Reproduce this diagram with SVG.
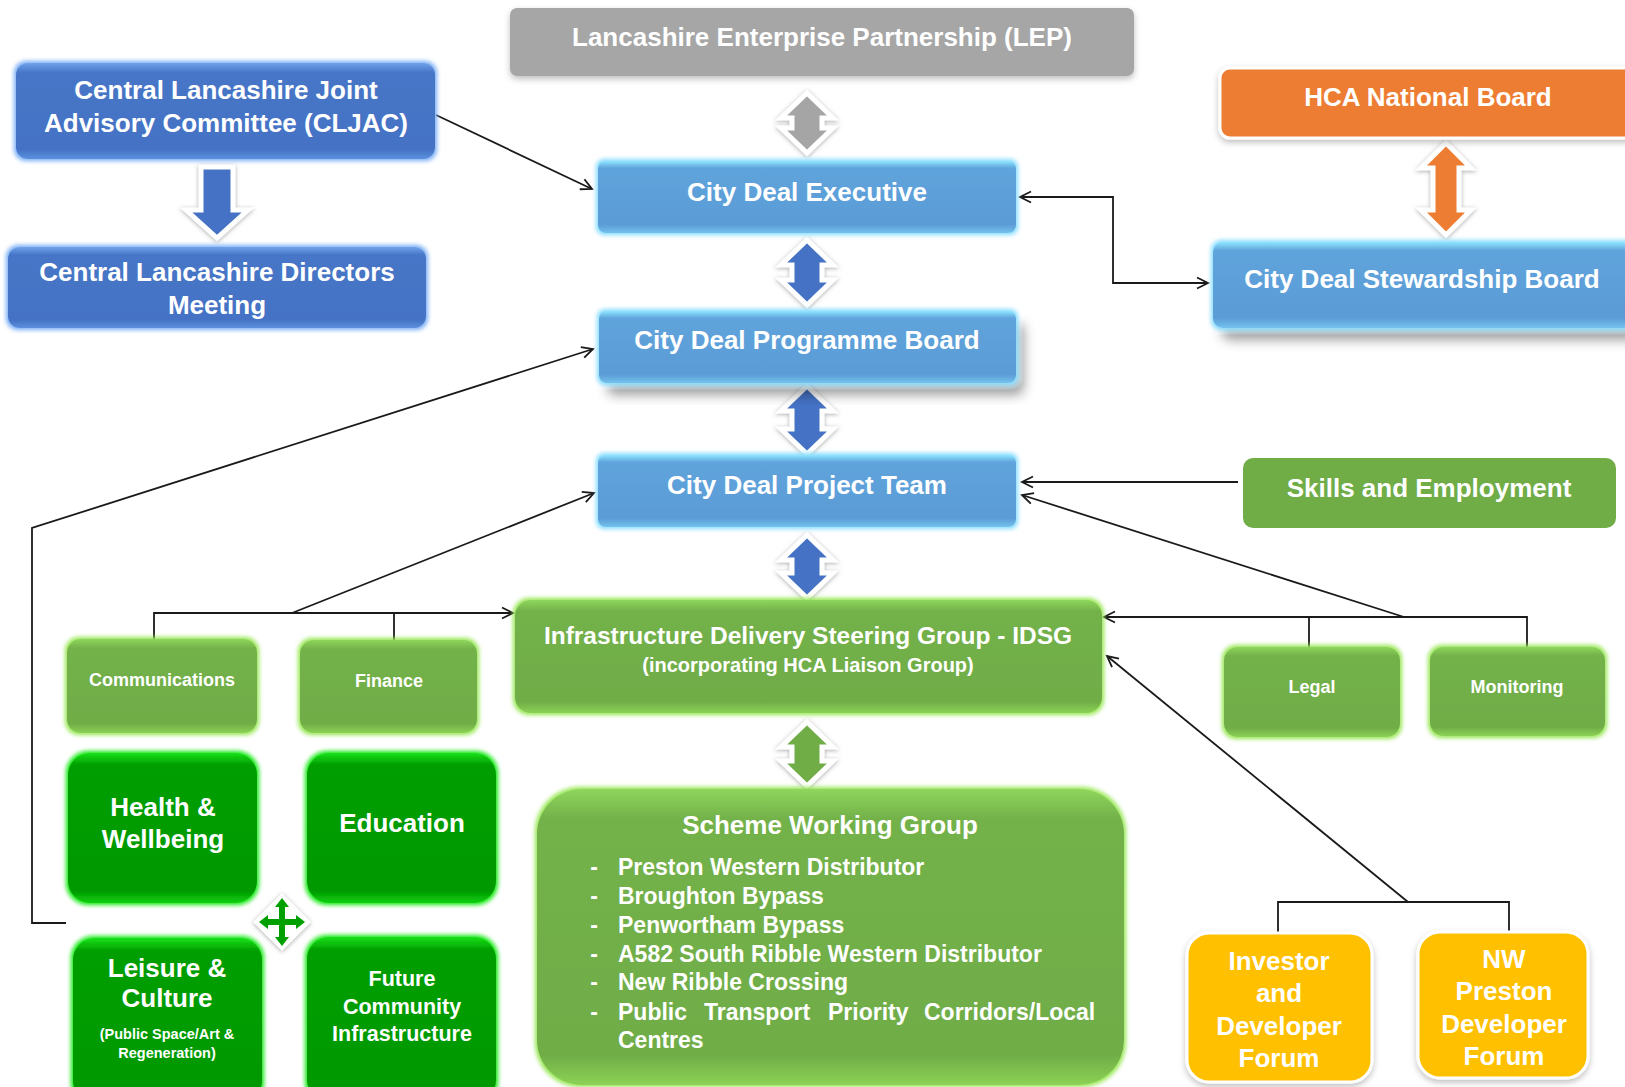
<svg xmlns="http://www.w3.org/2000/svg" width="1625" height="1087" viewBox="0 0 1625 1087">
<style>
.t{font-family:"Liberation Sans",Arial,Helvetica,sans-serif;font-weight:bold;fill:#fff;text-anchor:middle}
.s26{font-size:26px}.s24{font-size:24.5px}.s23{font-size:23px}.s20{font-size:20px}.s18{font-size:18px}.s21{font-size:21.5px}.s14{font-size:14.5px}
.st{text-anchor:start}
.ln{fill:none;stroke:#1a1a1a;stroke-width:1.8}
.arr{marker-end:url(#ah)}
.both{marker-start:url(#ah);marker-end:url(#ah)}
.bl{fill:url(#gBlueL);filter:url(#glowL)}
.blsh{fill:url(#gBlueL);filter:url(#glowLsh)}
.bd{fill:url(#gBlueD);filter:url(#glowD)}
.gr{fill:url(#gGreen);filter:url(#glowG)}
.bg{fill:url(#gBright);filter:url(#glowBG)}
.da{stroke:#fff;stroke-width:5;stroke-linejoin:miter;filter:url(#arSh)}
</style>
<defs>
<marker id="ah" markerUnits="userSpaceOnUse" markerWidth="16" markerHeight="16" refX="12" refY="7" orient="auto-start-reverse">
<path d="M1,1.5 L12,7 L1,12.5" fill="none" stroke="#1a1a1a" stroke-width="1.8"/>
</marker>
<linearGradient id="gBlueL" x1="0" y1="0" x2="0" y2="1">
<stop offset="0" stop-color="#8FE6FF"/><stop offset="0.1" stop-color="#5FA4DC"/><stop offset="0.88" stop-color="#5B9BD5"/><stop offset="1" stop-color="#74C2EE"/>
</linearGradient>
<linearGradient id="gBlueD" x1="0" y1="0" x2="0" y2="1">
<stop offset="0" stop-color="#6FA3EA"/><stop offset="0.1" stop-color="#4775C7"/><stop offset="0.9" stop-color="#4472C4"/><stop offset="1" stop-color="#5C90DE"/>
</linearGradient>
<linearGradient id="gGreen" x1="0" y1="0" x2="0" y2="1">
<stop offset="0" stop-color="#8FD65C"/><stop offset="0.1" stop-color="#73B14A"/><stop offset="0.9" stop-color="#70AD47"/><stop offset="1" stop-color="#8CD255"/>
</linearGradient>
<linearGradient id="gBright" x1="0" y1="0" x2="0" y2="1">
<stop offset="0" stop-color="#19E019"/><stop offset="0.08" stop-color="#009E00"/><stop offset="0.92" stop-color="#009900"/><stop offset="1" stop-color="#10D010"/>
</linearGradient>
<filter id="glowL" x="-5%" y="-10%" width="110%" height="120%">
<feMorphology in="SourceAlpha" operator="dilate" radius="1.5" result="d"/><feGaussianBlur in="d" stdDeviation="2" result="b"/>
<feFlood flood-color="#86DDFF"/><feComposite in2="b" operator="in" result="g"/>
<feMerge><feMergeNode in="g"/><feMergeNode in="SourceGraphic"/></feMerge>
</filter>
<filter id="glowLsh" x="-5%" y="-10%" width="115%" height="140%">
<feGaussianBlur in="SourceAlpha" stdDeviation="6" result="sb"/><feOffset in="sb" dx="8" dy="12" result="so"/>
<feFlood flood-color="#000" flood-opacity="0.38"/><feComposite in2="so" operator="in" result="sh"/>
<feMorphology in="SourceAlpha" operator="dilate" radius="1.5" result="d"/><feGaussianBlur in="d" stdDeviation="2" result="b"/>
<feFlood flood-color="#86DDFF"/><feComposite in2="b" operator="in" result="g"/>
<feMerge><feMergeNode in="sh"/><feMergeNode in="g"/><feMergeNode in="SourceGraphic"/></feMerge>
</filter>
<filter id="glowD" x="-5%" y="-10%" width="110%" height="120%">
<feMorphology in="SourceAlpha" operator="dilate" radius="1.5" result="d"/><feGaussianBlur in="d" stdDeviation="2" result="b"/>
<feFlood flood-color="#79AEF5"/><feComposite in2="b" operator="in" result="g"/>
<feMerge><feMergeNode in="g"/><feMergeNode in="SourceGraphic"/></feMerge>
</filter>
<filter id="glowG" x="-5%" y="-10%" width="110%" height="120%">
<feMorphology in="SourceAlpha" operator="dilate" radius="2" result="d"/><feGaussianBlur in="d" stdDeviation="2.2" result="b"/>
<feFlood flood-color="#96E652"/><feComposite in2="b" operator="in" result="g"/>
<feMerge><feMergeNode in="g"/><feMergeNode in="SourceGraphic"/></feMerge>
</filter>
<filter id="glowBG" x="-5%" y="-10%" width="110%" height="120%">
<feMorphology in="SourceAlpha" operator="dilate" radius="1.5" result="d"/><feGaussianBlur in="d" stdDeviation="2" result="b"/>
<feFlood flood-color="#10E810"/><feComposite in2="b" operator="in" result="g"/>
<feMerge><feMergeNode in="g"/><feMergeNode in="SourceGraphic"/></feMerge>
</filter>
<filter id="soft" x="-5%" y="-10%" width="110%" height="130%">
<feDropShadow dx="0" dy="3" stdDeviation="3" flood-color="#000" flood-opacity="0.25"/>
</filter>
<filter id="arSh" x="-30%" y="-20%" width="160%" height="140%">
<feDropShadow dx="0" dy="1" stdDeviation="2" flood-color="#666" flood-opacity="0.55"/>
</filter>
<clipPath id="clipDir"><rect x="0" y="240" width="440" height="79"/></clipPath>
</defs>
<rect width="1625" height="1087" fill="#fff"/>

<g id="connectors">
<path class="ln arr" d="M436,115 L592,189"/>
<path class="ln both" d="M1020,197 H1113 V283 H1208"/>
<path class="ln arr" d="M66,923 H32 V528 L593,349"/>
<path class="ln arr" d="M154,639 V613 H513"/>
<path class="ln" d="M394,613 V640"/>
<path class="ln arr" d="M292,613 L594,493"/>
<path class="ln arr" d="M1238,482 H1022"/>
<path class="ln arr" d="M1527,647 V617 H1104"/>
<path class="ln" d="M1309,617 V647"/>
<path class="ln arr" d="M1404,617 L1022,495"/>
<path class="ln" d="M1278,933 V902 H1509 V932"/>
<path class="ln arr" d="M1408,902 L1107,656"/>
</g>

<g id="flow-arrows">
<path class="da" fill="#A5A5A5" d="M807,93 L833,118 L822,118 L822,128 L833,128 L807,153 L781,128 L792,128 L792,118 L781,118 Z"/>
<path class="da" fill="#4472C4" d="M807,240 L833,265 L822,265 L822,280 L833,280 L807,305 L781,280 L792,280 L792,265 L781,265 Z"/>
<path class="da" fill="#4472C4" d="M807,386 L833,411 L822,411 L822,429 L833,429 L807,454 L781,429 L792,429 L792,411 L781,411 Z"/>
<path class="da" fill="#4472C4" d="M807,535 L833,560 L822,560 L822,573 L833,573 L807,598 L781,573 L792,573 L792,560 L781,560 Z"/>
<path class="da" fill="#70AD47" d="M807,722 L833,747 L822,747 L822,761 L833,761 L807,786 L781,761 L792,761 L792,747 L781,747 Z"/>
<path class="da" fill="#ED7D31" d="M1446,143 L1471,168 L1459,168 L1459,210 L1471,210 L1446,235 L1421,210 L1433,210 L1433,168 L1421,168 Z"/>
<path class="da" fill="#4472C4" d="M201,167 H233 V210 H248 L217,238 L186,210 H201 Z"/>
<g id="cross-arrow">
<path d="M282,893 L311,922 L282,951 L253,922 Z" fill="#fff" filter="url(#arSh)"/>
<path fill="#00A000" d="M282,898 L289,907 L285,907 L285,919 L296,919 L296,915 L305,922 L296,929 L296,925 L285,925 L285,937 L289,937 L282,946 L275,937 L279,937 L279,925 L268,925 L268,929 L259,922 L268,915 L268,919 L279,919 L279,907 L275,907 Z"/>
</g>
</g>

<g id="lep">
<rect x="510" y="8" width="624" height="68" rx="7" fill="#A6A6A6" filter="url(#soft)"/>
<text class="t s26" x="822" y="46">Lancashire Enterprise Partnership (LEP)</text>
</g>

<g id="cljac">
<rect class="bd" x="16" y="63" width="419" height="96" rx="12"/>
<text class="t s26" x="226" y="99">Central Lancashire Joint</text>
<text class="t s26" x="226" y="132">Advisory Committee (CLJAC)</text>
</g>

<g id="directors">
<rect class="bd" x="8" y="247" width="418" height="81" rx="12"/>
<text class="t s26" x="217" y="281">Central Lancashire Directors</text>
<text class="t s26" x="217" y="314" clip-path="url(#clipDir)">Meeting</text>
</g>

<g id="executive">
<rect class="bl" x="598" y="161" width="418" height="72" rx="8"/>
<text class="t s26" x="807" y="201">City Deal Executive</text>
</g>

<g id="programme-board">
<rect class="blsh" x="599" y="311" width="417" height="72" rx="8"/>
<text class="t s26" x="807" y="349">City Deal Programme Board</text>
</g>

<g id="project-team">
<rect class="bl" x="598" y="455" width="418" height="72" rx="8"/>
<text class="t s26" x="807" y="494">City Deal Project Team</text>
</g>

<g id="hca">
<rect x="1220" y="68" width="420" height="70" rx="10" fill="#ED7D31" stroke="#fff" stroke-width="3" filter="url(#soft)"/>
<text class="t s26" x="1428" y="106">HCA National Board</text>
</g>

<g id="stewardship">
<rect class="blsh" x="1213" y="242" width="420" height="86" rx="10"/>
<text class="t s26" x="1422" y="288">City Deal Stewardship Board</text>
</g>

<g id="skills">
<rect x="1243" y="458" width="373" height="70" rx="10" fill="#70AD47"/>
<text class="t s26" x="1429" y="497">Skills and Employment</text>
</g>

<g id="idsg">
<rect class="gr" x="515" y="600" width="587" height="113" rx="16"/>
<text class="t s24" x="808" y="644">Infrastructure Delivery Steering Group - IDSG</text>
<text class="t s20" x="808" y="672">(incorporating HCA Liaison Group)</text>
</g>

<g id="communications">
<rect class="gr" x="67" y="639" width="190" height="94" rx="14"/>
<text class="t s18" x="162" y="686">Communications</text>
</g>

<g id="finance">
<rect class="gr" x="300" y="640" width="177" height="93" rx="14"/>
<text class="t s18" x="389" y="687">Finance</text>
</g>

<g id="legal">
<rect class="gr" x="1224" y="647" width="176" height="90" rx="14"/>
<text class="t s18" x="1312" y="693">Legal</text>
</g>

<g id="monitoring">
<rect class="gr" x="1430" y="647" width="175" height="89" rx="14"/>
<text class="t s18" x="1517" y="693">Monitoring</text>
</g>

<g id="health">
<rect class="bg" x="68" y="753" width="189" height="150" rx="22"/>
<text class="t s26" x="163" y="816">Health &amp;</text>
<text class="t s26" x="163" y="848">Wellbeing</text>
</g>

<g id="education">
<rect class="bg" x="307" y="753" width="189" height="150" rx="22"/>
<text class="t s26" x="402" y="832">Education</text>
</g>

<g id="leisure">
<rect class="bg" x="73" y="938" width="189" height="165" rx="22"/>
<text class="t s26" x="167" y="977">Leisure &amp;</text>
<text class="t s26" x="167" y="1007">Culture</text>
<text class="t s14" x="167" y="1039">(Public Space/Art &amp;</text>
<text class="t s14" x="167" y="1058">Regeneration)</text>
</g>

<g id="future">
<rect class="bg" x="307" y="937" width="189" height="165" rx="22"/>
<text class="t s21" x="402" y="986">Future</text>
<text class="t s21" x="402" y="1014">Community</text>
<text class="t s21" x="402" y="1041">Infrastructure</text>
</g>

<g id="scheme">
<rect class="gr" x="537" y="789" width="587" height="296" rx="45"/>
<text class="t s26" x="830" y="834">Scheme Working Group</text>
<g class="t s23">
<text x="594" y="875">-</text><text class="st" x="618" y="875">Preston Western Distributor</text>
<text x="594" y="904">-</text><text class="st" x="618" y="904">Broughton Bypass</text>
<text x="594" y="933">-</text><text class="st" x="618" y="933">Penwortham Bypass</text>
<text x="594" y="962">-</text><text class="st" x="618" y="962">A582 South Ribble Western Distributor</text>
<text x="594" y="990">-</text><text class="st" x="618" y="990">New Ribble Crossing</text>
<text x="594" y="1020">-</text><text class="st" y="1020"><tspan x="618">Public</tspan><tspan x="704">Transport</tspan><tspan x="828">Priority</tspan><tspan x="924">Corridors/Local</tspan></text>
<text class="st" x="618" y="1048">Centres</text>
</g>
</g>

<g id="investor">
<rect x="1187" y="933" width="185" height="149" rx="22" fill="#FFC000" stroke="#fff" stroke-width="3" filter="url(#soft)"/>
<text class="t s26" x="1279" y="970">Investor</text>
<text class="t s26" x="1279" y="1002">and</text>
<text class="t s26" x="1279" y="1035">Developer</text>
<text class="t s26" x="1279" y="1067">Forum</text>
</g>

<g id="nw-preston">
<rect x="1418" y="932" width="170" height="146" rx="22" fill="#FFC000" stroke="#fff" stroke-width="3" filter="url(#soft)"/>
<text class="t s26" x="1504" y="968">NW</text>
<text class="t s26" x="1504" y="1000">Preston</text>
<text class="t s26" x="1504" y="1033">Developer</text>
<text class="t s26" x="1504" y="1065">Forum</text>
</g>
</svg>
